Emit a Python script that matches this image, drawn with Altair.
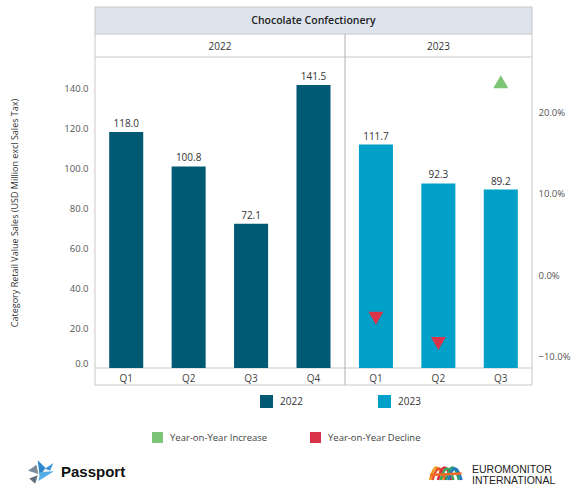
import altair as alt
import pandas as pd

# ---- data -------------------------------------------------------------
years = ["2022", "2022", "2022", "2022", "2023", "2023", "2023"]
quarters = ["Q1", "Q2", "Q3", "Q4", "Q1", "Q2", "Q3"]
sales = [118.0, 100.8, 72.1, 141.5, 111.7, 92.3, 89.2]

yoy_quarters = ["Q1", "Q2", "Q3"]
yoy_growth = [-5.3, -8.4, 23.7]
yoy_direction = ["Year-on-Year Decline", "Year-on-Year Decline", "Year-on-Year Increase"]

year_domain = ["2022", "2023"]
year_colors = ["#005a73", "#00a0c8"]
yoy_domain = ["Year-on-Year Increase", "Year-on-Year Decline"]
yoy_colors = ["#7cc576", "#d9334a"]

slots = [f"{y} {q}" for y, q in zip(years, quarters)]
sales_df = pd.DataFrame({"slot": slots, "year": years, "quarter": quarters, "value": sales})
yoy_df = pd.DataFrame({
    "slot": [f"2023 {q}" for q in yoy_quarters],
    "growth": yoy_growth,
    "direction": yoy_direction,
    "marker": ["down" if g < 0 else "up" for g in yoy_growth],
})

FONT = "Open Sans"
W, H = 437, 311
GRID = "#c8c8c8"
one = pd.DataFrame({"d": [0]})

x_enc = alt.X(
    "slot:N",
    sort=slots,
    scale=alt.Scale(domain=slots, paddingInner=0.455, paddingOuter=0.2275),
    axis=alt.Axis(
        title=None, labelExpr="split(datum.label, ' ')[1]", labelAngle=0,
        ticks=False, domain=False, labelPadding=5, labelFontSize=10,
        labelColor="#444", labelFont=FONT,
    ),
)

# ---- bars and value labels (left axis) ---------------------------------
left_y = alt.Y(
    "value:Q",
    scale=alt.Scale(domain=[0, 155.5], nice=False, zero=True),
    axis=alt.Axis(
        values=[0, 20, 40, 60, 80, 100, 120, 140], format=".1f", grid=False,
        ticks=False, domain=False, labelPadding=7, labelFlush=True,
        labelFontSize=9.5, labelColor="#555", labelFont=FONT,
        title="Category Retail Value Sales (USD Million excl Sales Tax)",
        titleFont=FONT, titleFontSize=9, titleFontWeight="normal", titleColor="#333",
        titleX=-81, titleY=H / 2, titleAngle=270, titleAlign="center", titleBaseline="middle",
    ),
)

bars = alt.Chart(sales_df).mark_bar().encode(
    x=x_enc,
    y=left_y,
    color=alt.Color(
        "year:N",
        scale=alt.Scale(domain=year_domain, range=year_colors),
        legend=alt.Legend(
            title=None, orient="none", direction="horizontal", legendX=165, legendY=338,
            symbolType="square", symbolSize=169, symbolStrokeWidth=0, labelFont=FONT,
            labelFontSize=10, labelColor="#333", labelOffset=7, columnPadding=75, padding=0,
        ),
    ),
)

bar_text = alt.Chart(sales_df).mark_text(
    baseline="bottom", dy=-3, font=FONT, fontSize=10, color="#333"
).encode(x=x_enc, y=alt.Y("value:Q"), text=alt.Text("value:Q", format=".1f"))

left_layer = alt.layer(bars, bar_text)

# ---- year-on-year markers (right axis) ---------------------------------
markers = alt.Chart(yoy_df).mark_point(filled=True, size=225, opacity=1, strokeWidth=0).encode(
    x=x_enc,
    y=alt.Y(
        "growth:Q",
        scale=alt.Scale(domain=[-11.4, 26.75], nice=False, zero=False),
        axis=alt.Axis(
            orient="right", values=[-10, 0, 10, 20],
            labelExpr="format(datum.value, '.1f') + '%'", grid=False, ticks=False,
            domain=False, labelPadding=6, labelFontSize=9.5, labelColor="#555",
            labelFont=FONT, title=None,
        ),
    ),
    color=alt.Color(
        "direction:N",
        scale=alt.Scale(domain=yoy_domain, range=yoy_colors),
        legend=alt.Legend(
            title=None, orient="none", direction="horizontal", legendX=57, legendY=375,
            symbolType="square", symbolSize=121, symbolStrokeWidth=0, labelFont=FONT,
            labelFontSize=9.5, labelColor="#444", labelOffset=7, columnPadding=42, padding=0,
        ),
    ),
    shape=alt.Shape(
        "marker:N",
        scale=alt.Scale(domain=["up", "down"], range=["triangle-up", "triangle-down"]),
        legend=None,
    ),
)

# ---- panel frame and headers -------------------------------------------
header_fill = alt.Chart(one).mark_rect(color="#dde4ed").encode(
    x=alt.value(0), x2=alt.value(W), y=alt.value(-50), y2=alt.value(-23)
)
frame = alt.Chart(one).mark_rect(fill=None, stroke=GRID, strokeWidth=1).encode(
    x=alt.value(0), x2=alt.value(W), y=alt.value(-50), y2=alt.value(H + 17)
)
hlines = [
    alt.Chart(one).mark_rule(color=GRID, strokeWidth=1).encode(
        x=alt.value(0), x2=alt.value(W), y=alt.value(yv)
    )
    for yv in (-23, 0, H)
]
divider = alt.Chart(one).mark_rule(color="#b0b0b0", strokeWidth=1).encode(
    x=alt.value(250), y=alt.value(-23), y2=alt.value(H + 17)
)
title_txt = alt.Chart(one).mark_text(
    text="Chocolate Confectionery", font=FONT, fontSize=10.5, fontWeight=600, color="#222"
).encode(x=alt.value(W / 2), y=alt.value(-36.5))
year_txt = [
    alt.Chart(one).mark_text(text=t, font=FONT, fontSize=10, color="#333").encode(
        x=alt.value(xv), y=alt.value(-10.5)
    )
    for t, xv in (("2022", 125), ("2023", 343.5))
]

# ---- footer branding -----------------------------------------------------
passport_shards = [
    ("M-1,-0.1 L-0.35,-0.55 L-0.2,0.15 Z", "#7d8b99"),
    ("M-0.9,0.5 L-0.25,0.25 L-0.45,0.9 Z", "#5f6f80"),
    ("M-0.25,-0.9 L0.35,-0.3 L-0.1,0.3 Z", "#2f86c8"),
    ("M-0.05,0.0 L1,-0.05 L0.2,0.45 L-0.2,0.7 Z", "#57ace6"),
    ("M0.3,-0.25 L0.95,-0.7 L0.7,-0.1 Z", "#3c96d6"),
]
passport_icon = [
    alt.Chart(one).mark_point(shape=p, filled=True, fill=c, strokeWidth=0, size=676, opacity=1)
    .encode(x=alt.value(-54), y=alt.value(415))
    for p, c in passport_shards
]
passport_txt = alt.Chart(one).mark_text(
    text="Passport", font="Liberation Sans", fontSize=15, fontWeight="bold",
    color="#111", align="left", baseline="middle"
).encode(x=alt.value(-34), y=alt.value(415))

# three overlapping arches with coloured stripes, plus a crossing band
euro_arcs = [
    ("M-2,0.7 Q-1.35,-1.8 -0.7,0.7", "#f39a1f"),
    ("M-1.75,0.7 Q-1.1,-1.6 -0.45,0.7", "#e8502c"),
    ("M-1.2,0.7 Q-0.55,-1.8 0.1,0.7", "#d8283a"),
    ("M-0.95,0.7 Q-0.3,-1.6 0.35,0.7", "#3aa655"),
    ("M-0.4,0.7 Q0.25,-1.8 0.9,0.7", "#2a9a6a"),
    ("M-0.15,0.7 Q0.5,-1.6 1.15,0.7", "#1f78c1"),
    ("M-2,0.2 L1.15,0.05", "#f06a25"),
]
euro_logo = [
    alt.Chart(one).mark_point(shape=p, filled=False, stroke=c, strokeWidth=2.6, size=400, opacity=1)
    .encode(x=alt.value(355), y=alt.value(416))
    for p, c in euro_arcs
]
euro_txt = [
    alt.Chart(one).mark_text(
        text=t, font="Liberation Sans", fontSize=10.5, color="#222",
        align="left", baseline="middle"
    ).encode(x=alt.value(377), y=alt.value(yv))
    for t, yv in (("EUROMONITOR", 413), ("INTERNATIONAL", 423.5))
]

chart = (
    alt.layer(
        header_fill, *hlines, divider, title_txt, *year_txt,
        left_layer, markers, frame,
        *passport_icon, passport_txt, *euro_logo, *euro_txt,
    )
    .resolve_scale(y="independent", color="independent", shape="independent")
    .properties(
        width=W, height=H,
        autosize=alt.AutoSizeParams(type="none"),
        padding={"left": 95, "top": 57, "right": 43, "bottom": 127},
        background="white",
    )
    .configure_view(stroke=None)
)

chart.save("out.html", embed_options={"renderer": "svg", "actions": False})
